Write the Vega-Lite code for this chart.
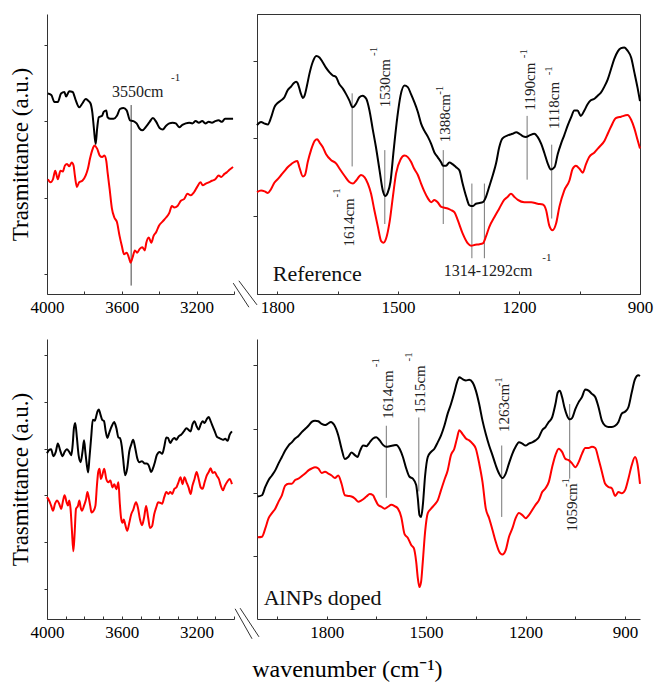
{
"$schema":"https://vega.github.io/schema/vega-lite/v6.json",
"padding":{"left":9,"top":13,"right":0,"bottom":0},
"datasets":{
"tl":[
{"s":"k","x":3995,"y":2.36},{"s":"k","x":3977,"y":2.34},{"s":"k","x":3960,"y":2.25},{"s":"k","x":3942,"y":2.25},{"s":"k","x":3925,"y":2.36},{"s":"k","x":3907,"y":2.38},{"s":"k","x":3898,"y":2.32},{"s":"k","x":3881,"y":2.39},{"s":"k","x":3863,"y":2.38},{"s":"k","x":3846,"y":2.27},{"s":"k","x":3828,"y":2.18},{"s":"k","x":3811,"y":2.23},{"s":"k","x":3793,"y":2.29},{"s":"k","x":3781,"y":2.27},{"s":"k","x":3767,"y":2.23},{"s":"k","x":3758,"y":2.12},{"s":"k","x":3749,"y":1.9},{"s":"k","x":3740,"y":1.7},{"s":"k","x":3732,"y":1.9},{"s":"k","x":3723,"y":2.05},{"s":"k","x":3705,"y":2.07},{"s":"k","x":3697,"y":2.12},{"s":"k","x":3683,"y":2.14},{"s":"k","x":3676,"y":2.05},{"s":"k","x":3661,"y":2.03},{"s":"k","x":3644,"y":2.03},{"s":"k","x":3626,"y":2.07},{"s":"k","x":3609,"y":2.16},{"s":"k","x":3591,"y":2.17},{"s":"k","x":3574,"y":2.14},{"s":"k","x":3556,"y":2.01},{"s":"k","x":3539,"y":2.0},{"s":"k","x":3521,"y":1.97},{"s":"k","x":3504,"y":1.9},{"s":"k","x":3490,"y":1.88},{"s":"k","x":3469,"y":1.93},{"s":"k","x":3451,"y":1.99},{"s":"k","x":3434,"y":2.04},{"s":"k","x":3416,"y":1.99},{"s":"k","x":3398,"y":1.91},{"s":"k","x":3381,"y":1.89},{"s":"k","x":3363,"y":1.94},{"s":"k","x":3346,"y":1.97},{"s":"k","x":3328,"y":1.98},{"s":"k","x":3311,"y":1.97},{"s":"k","x":3293,"y":1.92},{"s":"k","x":3276,"y":1.95},{"s":"k","x":3258,"y":1.97},{"s":"k","x":3240,"y":1.98},{"s":"k","x":3223,"y":1.97},{"s":"k","x":3205,"y":2.0},{"s":"k","x":3188,"y":1.98},{"s":"k","x":3170,"y":2.0},{"s":"k","x":3153,"y":1.97},{"s":"k","x":3135,"y":1.99},{"s":"k","x":3118,"y":1.98},{"s":"k","x":3100,"y":2.0},{"s":"k","x":3082,"y":2.01},{"s":"k","x":3065,"y":1.99},{"s":"k","x":3048,"y":2.03},{"s":"k","x":3030,"y":2.03},{"s":"k","x":3005,"y":2.03},
{"s":"r","x":3995,"y":1.24},{"s":"r","x":3981,"y":1.2},{"s":"r","x":3968,"y":1.24},{"s":"r","x":3956,"y":1.35},{"s":"r","x":3942,"y":1.24},{"s":"r","x":3928,"y":1.35},{"s":"r","x":3916,"y":1.34},{"s":"r","x":3904,"y":1.42},{"s":"r","x":3893,"y":1.44},{"s":"r","x":3881,"y":1.41},{"s":"r","x":3868,"y":1.46},{"s":"r","x":3858,"y":1.42},{"s":"r","x":3851,"y":1.29},{"s":"r","x":3840,"y":1.14},{"s":"r","x":3828,"y":1.2},{"s":"r","x":3811,"y":1.22},{"s":"r","x":3793,"y":1.29},{"s":"r","x":3781,"y":1.38},{"s":"r","x":3770,"y":1.51},{"s":"r","x":3758,"y":1.62},{"s":"r","x":3746,"y":1.68},{"s":"r","x":3732,"y":1.64},{"s":"r","x":3718,"y":1.55},{"s":"r","x":3705,"y":1.53},{"s":"r","x":3693,"y":1.55},{"s":"r","x":3683,"y":1.48},{"s":"r","x":3676,"y":1.33},{"s":"r","x":3665,"y":1.11},{"s":"r","x":3653,"y":0.86},{"s":"r","x":3640,"y":0.74},{"s":"r","x":3626,"y":0.68},{"s":"r","x":3612,"y":0.5},{"s":"r","x":3600,"y":0.37},{"s":"r","x":3588,"y":0.26},{"s":"r","x":3574,"y":0.28},{"s":"r","x":3560,"y":0.2},{"s":"r","x":3553,"y":0.15},{"s":"r","x":3542,"y":0.22},{"s":"r","x":3530,"y":0.31},{"s":"r","x":3518,"y":0.28},{"s":"r","x":3504,"y":0.33},{"s":"r","x":3490,"y":0.35},{"s":"r","x":3477,"y":0.31},{"s":"r","x":3469,"y":0.41},{"s":"r","x":3456,"y":0.48},{"s":"r","x":3442,"y":0.41},{"s":"r","x":3430,"y":0.5},{"s":"r","x":3416,"y":0.55},{"s":"r","x":3402,"y":0.63},{"s":"r","x":3381,"y":0.69},{"s":"r","x":3363,"y":0.74},{"s":"r","x":3346,"y":0.8},{"s":"r","x":3332,"y":0.89},{"s":"r","x":3319,"y":0.87},{"s":"r","x":3302,"y":0.89},{"s":"r","x":3284,"y":0.96},{"s":"r","x":3267,"y":0.98},{"s":"r","x":3249,"y":1.05},{"s":"r","x":3232,"y":1.03},{"s":"r","x":3214,"y":1.07},{"s":"r","x":3197,"y":1.14},{"s":"r","x":3179,"y":1.2},{"s":"r","x":3167,"y":1.16},{"s":"r","x":3153,"y":1.18},{"s":"r","x":3135,"y":1.2},{"s":"r","x":3118,"y":1.22},{"s":"r","x":3100,"y":1.24},{"s":"r","x":3082,"y":1.29},{"s":"r","x":3068,"y":1.27},{"s":"r","x":3051,"y":1.31},{"s":"r","x":3039,"y":1.33},{"s":"r","x":3026,"y":1.36},{"s":"r","x":3005,"y":1.4}
],
"tl_ann":[{"x":3550,"y":2.21,"y2":-0.15}],
"tl_lab":[{"t":"3550cm","x":3653,"y":2.38}],
"tl_sup":[{"t":"-1","x":3312,"y":2.56}],
"tr":[
{"s":"k","x":1850,"y":1.17},{"s":"k","x":1840,"y":1.21},{"s":"k","x":1831,"y":1.19},{"s":"k","x":1823,"y":1.18},{"s":"k","x":1815,"y":1.27},{"s":"k","x":1807,"y":1.4},{"s":"k","x":1798,"y":1.46},{"s":"k","x":1790,"y":1.49},{"s":"k","x":1782,"y":1.53},{"s":"k","x":1774,"y":1.62},{"s":"k","x":1765,"y":1.67},{"s":"k","x":1759,"y":1.71},{"s":"k","x":1753,"y":1.73},{"s":"k","x":1749,"y":1.71},{"s":"k","x":1742,"y":1.59},{"s":"k","x":1736,"y":1.52},{"s":"k","x":1732,"y":1.55},{"s":"k","x":1726,"y":1.68},{"s":"k","x":1720,"y":1.83},{"s":"k","x":1712,"y":1.98},{"s":"k","x":1703,"y":2.06},{"s":"k","x":1695,"y":2.04},{"s":"k","x":1687,"y":1.98},{"s":"k","x":1679,"y":1.91},{"s":"k","x":1670,"y":1.85},{"s":"k","x":1662,"y":1.81},{"s":"k","x":1654,"y":1.79},{"s":"k","x":1646,"y":1.7},{"s":"k","x":1637,"y":1.64},{"s":"k","x":1629,"y":1.57},{"s":"k","x":1621,"y":1.49},{"s":"k","x":1613,"y":1.4},{"s":"k","x":1604,"y":1.45},{"s":"k","x":1596,"y":1.53},{"s":"k","x":1588,"y":1.55},{"s":"k","x":1579,"y":1.51},{"s":"k","x":1571,"y":1.36},{"s":"k","x":1563,"y":1.12},{"s":"k","x":1555,"y":0.89},{"s":"k","x":1546,"y":0.59},{"s":"k","x":1538,"y":0.33},{"s":"k","x":1532,"y":0.26},{"s":"k","x":1526,"y":0.3},{"s":"k","x":1519,"y":0.44},{"s":"k","x":1511,"y":0.85},{"s":"k","x":1502,"y":1.27},{"s":"k","x":1494,"y":1.55},{"s":"k","x":1484,"y":1.68},{"s":"k","x":1476,"y":1.66},{"s":"k","x":1468,"y":1.57},{"s":"k","x":1460,"y":1.47},{"s":"k","x":1451,"y":1.34},{"s":"k","x":1443,"y":1.19},{"s":"k","x":1435,"y":1.1},{"s":"k","x":1426,"y":1.02},{"s":"k","x":1418,"y":0.93},{"s":"k","x":1410,"y":0.82},{"s":"k","x":1402,"y":0.76},{"s":"k","x":1393,"y":0.69},{"s":"k","x":1389,"y":0.65},{"s":"k","x":1381,"y":0.65},{"s":"k","x":1373,"y":0.69},{"s":"k","x":1365,"y":0.67},{"s":"k","x":1356,"y":0.63},{"s":"k","x":1348,"y":0.59},{"s":"k","x":1340,"y":0.42},{"s":"k","x":1331,"y":0.25},{"s":"k","x":1323,"y":0.14},{"s":"k","x":1315,"y":0.13},{"s":"k","x":1307,"y":0.16},{"s":"k","x":1298,"y":0.17},{"s":"k","x":1290,"y":0.18},{"s":"k","x":1282,"y":0.25},{"s":"k","x":1274,"y":0.38},{"s":"k","x":1265,"y":0.53},{"s":"k","x":1257,"y":0.68},{"s":"k","x":1249,"y":0.89},{"s":"k","x":1241,"y":1.0},{"s":"k","x":1228,"y":1.04},{"s":"k","x":1216,"y":1.06},{"s":"k","x":1207,"y":1.08},{"s":"k","x":1199,"y":1.06},{"s":"k","x":1191,"y":1.03},{"s":"k","x":1183,"y":1.02},{"s":"k","x":1174,"y":1.04},{"s":"k","x":1162,"y":1.06},{"s":"k","x":1154,"y":1.02},{"s":"k","x":1145,"y":0.93},{"s":"k","x":1137,"y":0.81},{"s":"k","x":1129,"y":0.68},{"s":"k","x":1121,"y":0.6},{"s":"k","x":1112,"y":0.63},{"s":"k","x":1104,"y":0.8},{"s":"k","x":1096,"y":0.93},{"s":"k","x":1088,"y":1.04},{"s":"k","x":1079,"y":1.17},{"s":"k","x":1071,"y":1.27},{"s":"k","x":1063,"y":1.36},{"s":"k","x":1055,"y":1.36},{"s":"k","x":1047,"y":1.29},{"s":"k","x":1038,"y":1.36},{"s":"k","x":1030,"y":1.44},{"s":"k","x":1022,"y":1.49},{"s":"k","x":1013,"y":1.51},{"s":"k","x":1005,"y":1.55},{"s":"k","x":997,"y":1.59},{"s":"k","x":988,"y":1.67},{"s":"k","x":980,"y":1.76},{"s":"k","x":972,"y":1.89},{"s":"k","x":964,"y":2.02},{"s":"k","x":955,"y":2.12},{"s":"k","x":947,"y":2.16},{"s":"k","x":939,"y":2.17},{"s":"k","x":931,"y":2.13},{"s":"k","x":922,"y":2.04},{"s":"k","x":914,"y":1.85},{"s":"k","x":906,"y":1.65},{"s":"k","x":900,"y":1.48},
{"s":"r","x":1850,"y":0.31},{"s":"r","x":1840,"y":0.33},{"s":"r","x":1831,"y":0.32},{"s":"r","x":1823,"y":0.3},{"s":"r","x":1815,"y":0.35},{"s":"r","x":1807,"y":0.43},{"s":"r","x":1798,"y":0.48},{"s":"r","x":1790,"y":0.53},{"s":"r","x":1782,"y":0.58},{"s":"r","x":1774,"y":0.63},{"s":"r","x":1765,"y":0.67},{"s":"r","x":1757,"y":0.7},{"s":"r","x":1750,"y":0.71},{"s":"r","x":1745,"y":0.63},{"s":"r","x":1736,"y":0.51},{"s":"r","x":1731,"y":0.53},{"s":"r","x":1724,"y":0.7},{"s":"r","x":1716,"y":0.85},{"s":"r","x":1707,"y":0.97},{"s":"r","x":1701,"y":0.99},{"s":"r","x":1695,"y":0.95},{"s":"r","x":1687,"y":0.89},{"s":"r","x":1679,"y":0.8},{"s":"r","x":1666,"y":0.72},{"s":"r","x":1654,"y":0.68},{"s":"r","x":1645,"y":0.61},{"s":"r","x":1633,"y":0.52},{"s":"r","x":1621,"y":0.44},{"s":"r","x":1612,"y":0.42},{"s":"r","x":1604,"y":0.46},{"s":"r","x":1592,"y":0.53},{"s":"r","x":1583,"y":0.5},{"s":"r","x":1575,"y":0.42},{"s":"r","x":1567,"y":0.29},{"s":"r","x":1559,"y":0.08},{"s":"r","x":1550,"y":-0.14},{"s":"r","x":1542,"y":-0.32},{"s":"r","x":1536,"y":-0.34},{"s":"r","x":1530,"y":-0.29},{"s":"r","x":1521,"y":-0.07},{"s":"r","x":1513,"y":0.25},{"s":"r","x":1505,"y":0.55},{"s":"r","x":1494,"y":0.73},{"s":"r","x":1484,"y":0.78},{"s":"r","x":1476,"y":0.76},{"s":"r","x":1468,"y":0.7},{"s":"r","x":1460,"y":0.61},{"s":"r","x":1451,"y":0.53},{"s":"r","x":1443,"y":0.42},{"s":"r","x":1435,"y":0.32},{"s":"r","x":1426,"y":0.23},{"s":"r","x":1418,"y":0.18},{"s":"r","x":1410,"y":0.21},{"s":"r","x":1402,"y":0.18},{"s":"r","x":1393,"y":0.12},{"s":"r","x":1385,"y":0.11},{"s":"r","x":1377,"y":0.1},{"s":"r","x":1369,"y":0.08},{"s":"r","x":1360,"y":0.05},{"s":"r","x":1352,"y":-0.05},{"s":"r","x":1340,"y":-0.22},{"s":"r","x":1327,"y":-0.35},{"s":"r","x":1319,"y":-0.38},{"s":"r","x":1311,"y":-0.37},{"s":"r","x":1298,"y":-0.36},{"s":"r","x":1290,"y":-0.35},{"s":"r","x":1282,"y":-0.26},{"s":"r","x":1274,"y":-0.14},{"s":"r","x":1261,"y":-0.01},{"s":"r","x":1249,"y":0.1},{"s":"r","x":1237,"y":0.21},{"s":"r","x":1228,"y":0.25},{"s":"r","x":1220,"y":0.29},{"s":"r","x":1212,"y":0.25},{"s":"r","x":1203,"y":0.21},{"s":"r","x":1187,"y":0.18},{"s":"r","x":1170,"y":0.18},{"s":"r","x":1154,"y":0.16},{"s":"r","x":1141,"y":0.15},{"s":"r","x":1133,"y":0.08},{"s":"r","x":1125,"y":-0.12},{"s":"r","x":1117,"y":-0.18},{"s":"r","x":1108,"y":-0.09},{"s":"r","x":1100,"y":0.12},{"s":"r","x":1088,"y":0.33},{"s":"r","x":1075,"y":0.46},{"s":"r","x":1067,"y":0.61},{"s":"r","x":1059,"y":0.65},{"s":"r","x":1050,"y":0.61},{"s":"r","x":1042,"y":0.56},{"s":"r","x":1034,"y":0.67},{"s":"r","x":1026,"y":0.76},{"s":"r","x":1013,"y":0.82},{"s":"r","x":1001,"y":0.89},{"s":"r","x":988,"y":0.97},{"s":"r","x":980,"y":1.06},{"s":"r","x":972,"y":1.15},{"s":"r","x":960,"y":1.26},{"s":"r","x":947,"y":1.28},{"s":"r","x":931,"y":1.3},{"s":"r","x":922,"y":1.24},{"s":"r","x":914,"y":1.13},{"s":"r","x":906,"y":0.98},{"s":"r","x":900,"y":0.87}
],
"tr_ann":[{"x":1614,"y":1.58,"y2":0.64},{"x":1533,"y":0.85,"y2":-0.1},{"x":1388,"y":0.85,"y2":-0.1},{"x":1317,"y":0.42,"y2":-0.54},{"x":1286,"y":0.42,"y2":-0.54},{"x":1180,"y":1.29,"y2":0.47},{"x":1119,"y":0.92,"y2":-0.03}],
"tr_rot":[{"t":"1614cm","x":1621,"y":-0.39},{"t":"1530cm","x":1532,"y":1.4},{"t":"1388cm","x":1383,"y":0.95},{"t":"1190cm","x":1174,"y":1.36},{"t":"1118cm","x":1114,"y":1.12}],
"tr_rsup":[{"t":"-1","x":1651,"y":0.3},{"t":"-1","x":1561,"y":2.12},{"t":"-1","x":1396,"y":1.62},{"t":"-1","x":1187,"y":2.09},{"t":"-1","x":1125,"y":1.87}],
"tr_hor":[{"t":"1314-1292cm","x":1387,"y":-0.71}],
"tr_hsup":[{"t":"-1","x":1131,"y":-0.54}],
"tr_big":[{"t":"Reference","x":1811,"y":-0.74}],
"tr_brk":[{"x":1909,"x2":1870,"y":-0.86,"y2":-1.17},{"x":1895,"x2":1850,"y":-0.83,"y2":-1.14}],
"bl":[
{"s":"k","x":4000,"y":2.9},{"s":"k","x":3989,"y":2.97},{"s":"k","x":3978,"y":2.99},{"s":"k","x":3966,"y":2.84},{"s":"k","x":3953,"y":2.93},{"s":"k","x":3942,"y":3.11},{"s":"k","x":3930,"y":2.97},{"s":"k","x":3917,"y":2.84},{"s":"k","x":3906,"y":2.93},{"s":"k","x":3894,"y":2.99},{"s":"k","x":3881,"y":2.93},{"s":"k","x":3870,"y":2.86},{"s":"k","x":3863,"y":3.07},{"s":"k","x":3856,"y":3.44},{"s":"k","x":3849,"y":3.55},{"s":"k","x":3840,"y":3.23},{"s":"k","x":3831,"y":2.86},{"s":"k","x":3820,"y":2.71},{"s":"k","x":3809,"y":2.97},{"s":"k","x":3802,"y":3.18},{"s":"k","x":3795,"y":2.93},{"s":"k","x":3787,"y":2.65},{"s":"k","x":3780,"y":2.49},{"s":"k","x":3773,"y":2.8},{"s":"k","x":3764,"y":3.23},{"s":"k","x":3755,"y":3.62},{"s":"k","x":3744,"y":3.6},{"s":"k","x":3737,"y":3.69},{"s":"k","x":3730,"y":3.8},{"s":"k","x":3723,"y":3.84},{"s":"k","x":3714,"y":3.73},{"s":"k","x":3705,"y":3.62},{"s":"k","x":3695,"y":3.59},{"s":"k","x":3686,"y":3.37},{"s":"k","x":3677,"y":3.23},{"s":"k","x":3668,"y":3.33},{"s":"k","x":3654,"y":3.48},{"s":"k","x":3641,"y":3.57},{"s":"k","x":3629,"y":3.44},{"s":"k","x":3618,"y":3.24},{"s":"k","x":3611,"y":3.23},{"s":"k","x":3600,"y":3.05},{"s":"k","x":3593,"y":2.79},{"s":"k","x":3582,"y":2.43},{"s":"k","x":3571,"y":2.58},{"s":"k","x":3560,"y":2.94},{"s":"k","x":3550,"y":3.08},{"s":"k","x":3539,"y":3.19},{"s":"k","x":3528,"y":3.01},{"s":"k","x":3517,"y":2.79},{"s":"k","x":3506,"y":2.71},{"s":"k","x":3492,"y":2.73},{"s":"k","x":3477,"y":2.68},{"s":"k","x":3467,"y":2.68},{"s":"k","x":3456,"y":2.64},{"s":"k","x":3443,"y":2.5},{"s":"k","x":3434,"y":2.57},{"s":"k","x":3423,"y":2.71},{"s":"k","x":3413,"y":2.86},{"s":"k","x":3398,"y":2.93},{"s":"k","x":3384,"y":2.89},{"s":"k","x":3373,"y":3.04},{"s":"k","x":3362,"y":3.24},{"s":"k","x":3353,"y":3.23},{"s":"k","x":3341,"y":3.12},{"s":"k","x":3330,"y":3.19},{"s":"k","x":3319,"y":3.23},{"s":"k","x":3308,"y":3.19},{"s":"k","x":3297,"y":3.26},{"s":"k","x":3283,"y":3.3},{"s":"k","x":3268,"y":3.37},{"s":"k","x":3254,"y":3.44},{"s":"k","x":3245,"y":3.41},{"s":"k","x":3232,"y":3.37},{"s":"k","x":3222,"y":3.52},{"s":"k","x":3211,"y":3.59},{"s":"k","x":3200,"y":3.48},{"s":"k","x":3189,"y":3.41},{"s":"k","x":3178,"y":3.52},{"s":"k","x":3168,"y":3.59},{"s":"k","x":3157,"y":3.55},{"s":"k","x":3146,"y":3.63},{"s":"k","x":3135,"y":3.68},{"s":"k","x":3125,"y":3.59},{"s":"k","x":3114,"y":3.48},{"s":"k","x":3103,"y":3.37},{"s":"k","x":3092,"y":3.26},{"s":"k","x":3081,"y":3.23},{"s":"k","x":3070,"y":3.21},{"s":"k","x":3059,"y":3.19},{"s":"k","x":3047,"y":3.21},{"s":"k","x":3034,"y":3.17},{"s":"k","x":3023,"y":3.3},{"s":"k","x":3011,"y":3.37},
{"s":"r","x":4000,"y":1.96},{"s":"r","x":3989,"y":1.89},{"s":"r","x":3978,"y":1.78},{"s":"r","x":3968,"y":1.67},{"s":"r","x":3957,"y":1.82},{"s":"r","x":3946,"y":1.89},{"s":"r","x":3935,"y":1.82},{"s":"r","x":3924,"y":1.71},{"s":"r","x":3914,"y":1.89},{"s":"r","x":3906,"y":2.0},{"s":"r","x":3895,"y":1.85},{"s":"r","x":3888,"y":1.78},{"s":"r","x":3881,"y":1.89},{"s":"r","x":3874,"y":1.71},{"s":"r","x":3867,"y":1.27},{"s":"r","x":3859,"y":0.8},{"s":"r","x":3852,"y":1.2},{"s":"r","x":3845,"y":1.71},{"s":"r","x":3834,"y":1.78},{"s":"r","x":3827,"y":1.89},{"s":"r","x":3820,"y":1.74},{"s":"r","x":3813,"y":1.67},{"s":"r","x":3802,"y":1.78},{"s":"r","x":3791,"y":1.92},{"s":"r","x":3784,"y":2.07},{"s":"r","x":3777,"y":1.96},{"s":"r","x":3769,"y":1.78},{"s":"r","x":3762,"y":1.63},{"s":"r","x":3751,"y":1.67},{"s":"r","x":3741,"y":1.78},{"s":"r","x":3733,"y":2.21},{"s":"r","x":3726,"y":2.5},{"s":"r","x":3719,"y":2.57},{"s":"r","x":3712,"y":2.35},{"s":"r","x":3705,"y":2.42},{"s":"r","x":3694,"y":2.57},{"s":"r","x":3683,"y":2.35},{"s":"r","x":3672,"y":2.28},{"s":"r","x":3661,"y":2.32},{"s":"r","x":3650,"y":2.17},{"s":"r","x":3640,"y":2.24},{"s":"r","x":3629,"y":2.13},{"s":"r","x":3618,"y":2.28},{"s":"r","x":3611,"y":1.85},{"s":"r","x":3604,"y":1.52},{"s":"r","x":3596,"y":1.41},{"s":"r","x":3589,"y":1.48},{"s":"r","x":3582,"y":1.38},{"s":"r","x":3571,"y":1.24},{"s":"r","x":3560,"y":1.41},{"s":"r","x":3550,"y":1.59},{"s":"r","x":3539,"y":1.69},{"s":"r","x":3524,"y":1.85},{"s":"r","x":3514,"y":1.74},{"s":"r","x":3503,"y":1.49},{"s":"r","x":3492,"y":1.36},{"s":"r","x":3481,"y":1.52},{"s":"r","x":3470,"y":1.77},{"s":"r","x":3459,"y":1.52},{"s":"r","x":3449,"y":1.3},{"s":"r","x":3438,"y":1.34},{"s":"r","x":3427,"y":1.59},{"s":"r","x":3416,"y":1.74},{"s":"r","x":3405,"y":1.85},{"s":"r","x":3395,"y":1.84},{"s":"r","x":3384,"y":1.82},{"s":"r","x":3373,"y":1.96},{"s":"r","x":3362,"y":2.07},{"s":"r","x":3351,"y":2.03},{"s":"r","x":3341,"y":2.07},{"s":"r","x":3330,"y":2.03},{"s":"r","x":3319,"y":2.14},{"s":"r","x":3308,"y":2.17},{"s":"r","x":3297,"y":2.28},{"s":"r","x":3286,"y":2.39},{"s":"r","x":3275,"y":2.24},{"s":"r","x":3265,"y":2.39},{"s":"r","x":3254,"y":2.28},{"s":"r","x":3243,"y":2.17},{"s":"r","x":3232,"y":2.03},{"s":"r","x":3222,"y":2.21},{"s":"r","x":3211,"y":2.35},{"s":"r","x":3200,"y":2.5},{"s":"r","x":3189,"y":2.35},{"s":"r","x":3178,"y":2.17},{"s":"r","x":3168,"y":2.14},{"s":"r","x":3157,"y":2.28},{"s":"r","x":3146,"y":2.42},{"s":"r","x":3135,"y":2.5},{"s":"r","x":3125,"y":2.58},{"s":"r","x":3114,"y":2.48},{"s":"r","x":3103,"y":2.5},{"s":"r","x":3092,"y":2.42},{"s":"r","x":3081,"y":2.35},{"s":"r","x":3070,"y":2.2},{"s":"r","x":3059,"y":2.11},{"s":"r","x":3049,"y":2.2},{"s":"r","x":3038,"y":2.28},{"s":"r","x":3023,"y":2.35},{"s":"r","x":3011,"y":2.24}
],
"br":[
{"s":"k","x":2008,"y":0.94},{"s":"k","x":1995,"y":0.96},{"s":"k","x":1985,"y":1.09},{"s":"k","x":1975,"y":1.2},{"s":"k","x":1965,"y":1.27},{"s":"k","x":1955,"y":1.35},{"s":"k","x":1945,"y":1.46},{"s":"k","x":1935,"y":1.56},{"s":"k","x":1925,"y":1.66},{"s":"k","x":1915,"y":1.74},{"s":"k","x":1905,"y":1.79},{"s":"k","x":1895,"y":1.85},{"s":"k","x":1885,"y":1.89},{"s":"k","x":1875,"y":1.95},{"s":"k","x":1865,"y":2.0},{"s":"k","x":1855,"y":2.05},{"s":"k","x":1845,"y":2.11},{"s":"k","x":1835,"y":2.13},{"s":"k","x":1825,"y":2.12},{"s":"k","x":1815,"y":2.08},{"s":"k","x":1805,"y":2.06},{"s":"k","x":1797,"y":2.08},{"s":"k","x":1787,"y":2.11},{"s":"k","x":1777,"y":2.06},{"s":"k","x":1765,"y":1.9},{"s":"k","x":1755,"y":1.69},{"s":"k","x":1745,"y":1.53},{"s":"k","x":1735,"y":1.56},{"s":"k","x":1725,"y":1.63},{"s":"k","x":1715,"y":1.59},{"s":"k","x":1707,"y":1.56},{"s":"k","x":1699,"y":1.66},{"s":"k","x":1690,"y":1.74},{"s":"k","x":1680,"y":1.73},{"s":"k","x":1670,"y":1.79},{"s":"k","x":1660,"y":1.85},{"s":"k","x":1650,"y":1.87},{"s":"k","x":1640,"y":1.82},{"s":"k","x":1630,"y":1.75},{"s":"k","x":1620,"y":1.72},{"s":"k","x":1610,"y":1.73},{"s":"k","x":1600,"y":1.74},{"s":"k","x":1590,"y":1.75},{"s":"k","x":1580,"y":1.69},{"s":"k","x":1570,"y":1.56},{"s":"k","x":1560,"y":1.38},{"s":"k","x":1550,"y":1.25},{"s":"k","x":1540,"y":1.22},{"s":"k","x":1530,"y":1.12},{"s":"k","x":1525,"y":0.91},{"s":"k","x":1520,"y":0.65},{"s":"k","x":1515,"y":0.62},{"s":"k","x":1510,"y":0.8},{"s":"k","x":1503,"y":1.27},{"s":"k","x":1495,"y":1.56},{"s":"k","x":1485,"y":1.64},{"s":"k","x":1475,"y":1.69},{"s":"k","x":1465,"y":1.79},{"s":"k","x":1455,"y":1.9},{"s":"k","x":1445,"y":2.05},{"s":"k","x":1435,"y":2.24},{"s":"k","x":1425,"y":2.39},{"s":"k","x":1415,"y":2.57},{"s":"k","x":1407,"y":2.73},{"s":"k","x":1400,"y":2.81},{"s":"k","x":1390,"y":2.78},{"s":"k","x":1380,"y":2.76},{"s":"k","x":1370,"y":2.77},{"s":"k","x":1360,"y":2.73},{"s":"k","x":1350,"y":2.6},{"s":"k","x":1340,"y":2.39},{"s":"k","x":1330,"y":2.13},{"s":"k","x":1320,"y":1.92},{"s":"k","x":1310,"y":1.74},{"s":"k","x":1300,"y":1.59},{"s":"k","x":1290,"y":1.43},{"s":"k","x":1280,"y":1.3},{"s":"k","x":1270,"y":1.23},{"s":"k","x":1260,"y":1.3},{"s":"k","x":1250,"y":1.46},{"s":"k","x":1240,"y":1.61},{"s":"k","x":1230,"y":1.72},{"s":"k","x":1220,"y":1.79},{"s":"k","x":1210,"y":1.77},{"s":"k","x":1200,"y":1.74},{"s":"k","x":1190,"y":1.77},{"s":"k","x":1180,"y":1.79},{"s":"k","x":1170,"y":1.82},{"s":"k","x":1160,"y":1.87},{"s":"k","x":1150,"y":1.98},{"s":"k","x":1140,"y":2.03},{"s":"k","x":1130,"y":2.11},{"s":"k","x":1120,"y":2.18},{"s":"k","x":1110,"y":2.39},{"s":"k","x":1103,"y":2.57},{"s":"k","x":1097,"y":2.6},{"s":"k","x":1090,"y":2.5},{"s":"k","x":1083,"y":2.34},{"s":"k","x":1075,"y":2.21},{"s":"k","x":1067,"y":2.15},{"s":"k","x":1060,"y":2.17},{"s":"k","x":1050,"y":2.31},{"s":"k","x":1040,"y":2.42},{"s":"k","x":1030,"y":2.5},{"s":"k","x":1020,"y":2.62},{"s":"k","x":1010,"y":2.6},{"s":"k","x":1000,"y":2.55},{"s":"k","x":990,"y":2.5},{"s":"k","x":980,"y":2.34},{"s":"k","x":970,"y":2.13},{"s":"k","x":960,"y":2.05},{"s":"k","x":950,"y":2.03},{"s":"k","x":940,"y":2.03},{"s":"k","x":930,"y":2.05},{"s":"k","x":920,"y":2.11},{"s":"k","x":910,"y":2.24},{"s":"k","x":900,"y":2.27},{"s":"k","x":890,"y":2.34},{"s":"k","x":880,"y":2.57},{"s":"k","x":870,"y":2.78},{"s":"k","x":860,"y":2.84},{"s":"k","x":855,"y":2.83},
{"s":"r","x":2008,"y":0.3},{"s":"r","x":1995,"y":0.31},{"s":"r","x":1985,"y":0.44},{"s":"r","x":1975,"y":0.6},{"s":"r","x":1965,"y":0.68},{"s":"r","x":1955,"y":0.75},{"s":"r","x":1945,"y":0.86},{"s":"r","x":1935,"y":0.96},{"s":"r","x":1925,"y":1.11},{"s":"r","x":1915,"y":1.14},{"s":"r","x":1905,"y":1.14},{"s":"r","x":1895,"y":1.2},{"s":"r","x":1885,"y":1.22},{"s":"r","x":1875,"y":1.26},{"s":"r","x":1865,"y":1.3},{"s":"r","x":1855,"y":1.35},{"s":"r","x":1845,"y":1.38},{"s":"r","x":1835,"y":1.4},{"s":"r","x":1825,"y":1.38},{"s":"r","x":1815,"y":1.31},{"s":"r","x":1805,"y":1.33},{"s":"r","x":1795,"y":1.3},{"s":"r","x":1785,"y":1.27},{"s":"r","x":1775,"y":1.23},{"s":"r","x":1765,"y":1.27},{"s":"r","x":1755,"y":1.14},{"s":"r","x":1745,"y":0.96},{"s":"r","x":1735,"y":0.95},{"s":"r","x":1725,"y":0.94},{"s":"r","x":1715,"y":0.91},{"s":"r","x":1705,"y":0.86},{"s":"r","x":1695,"y":0.88},{"s":"r","x":1680,"y":0.94},{"s":"r","x":1670,"y":0.98},{"s":"r","x":1660,"y":0.96},{"s":"r","x":1655,"y":0.91},{"s":"r","x":1645,"y":0.81},{"s":"r","x":1635,"y":0.78},{"s":"r","x":1625,"y":0.75},{"s":"r","x":1615,"y":0.78},{"s":"r","x":1605,"y":0.81},{"s":"r","x":1595,"y":0.79},{"s":"r","x":1585,"y":0.75},{"s":"r","x":1575,"y":0.62},{"s":"r","x":1565,"y":0.35},{"s":"r","x":1555,"y":0.29},{"s":"r","x":1545,"y":0.18},{"s":"r","x":1537,"y":0.13},{"s":"r","x":1530,"y":-0.08},{"s":"r","x":1525,"y":-0.34},{"s":"r","x":1520,"y":-0.48},{"s":"r","x":1515,"y":-0.39},{"s":"r","x":1510,"y":-0.08},{"s":"r","x":1503,"y":0.39},{"s":"r","x":1495,"y":0.68},{"s":"r","x":1485,"y":0.75},{"s":"r","x":1475,"y":0.81},{"s":"r","x":1465,"y":0.88},{"s":"r","x":1455,"y":1.04},{"s":"r","x":1445,"y":1.2},{"s":"r","x":1435,"y":1.35},{"s":"r","x":1425,"y":1.59},{"s":"r","x":1415,"y":1.69},{"s":"r","x":1407,"y":1.85},{"s":"r","x":1400,"y":1.98},{"s":"r","x":1390,"y":1.92},{"s":"r","x":1380,"y":1.85},{"s":"r","x":1370,"y":1.82},{"s":"r","x":1360,"y":1.77},{"s":"r","x":1350,"y":1.69},{"s":"r","x":1340,"y":1.46},{"s":"r","x":1330,"y":1.17},{"s":"r","x":1320,"y":0.75},{"s":"r","x":1310,"y":0.6},{"s":"r","x":1300,"y":0.42},{"s":"r","x":1290,"y":0.23},{"s":"r","x":1280,"y":0.08},{"s":"r","x":1270,"y":0.03},{"s":"r","x":1260,"y":0.1},{"s":"r","x":1250,"y":0.31},{"s":"r","x":1240,"y":0.44},{"s":"r","x":1230,"y":0.6},{"s":"r","x":1220,"y":0.68},{"s":"r","x":1210,"y":0.65},{"s":"r","x":1200,"y":0.6},{"s":"r","x":1190,"y":0.65},{"s":"r","x":1180,"y":0.73},{"s":"r","x":1170,"y":0.81},{"s":"r","x":1160,"y":0.88},{"s":"r","x":1150,"y":1.01},{"s":"r","x":1140,"y":1.07},{"s":"r","x":1130,"y":1.17},{"s":"r","x":1120,"y":1.4},{"s":"r","x":1110,"y":1.59},{"s":"r","x":1100,"y":1.69},{"s":"r","x":1090,"y":1.64},{"s":"r","x":1080,"y":1.53},{"s":"r","x":1070,"y":1.51},{"s":"r","x":1060,"y":1.46},{"s":"r","x":1050,"y":1.4},{"s":"r","x":1040,"y":1.48},{"s":"r","x":1030,"y":1.61},{"s":"r","x":1020,"y":1.7},{"s":"r","x":1010,"y":1.7},{"s":"r","x":1000,"y":1.72},{"s":"r","x":990,"y":1.7},{"s":"r","x":980,"y":1.53},{"s":"r","x":970,"y":1.33},{"s":"r","x":960,"y":1.14},{"s":"r","x":950,"y":1.09},{"s":"r","x":940,"y":1.07},{"s":"r","x":930,"y":0.95},{"s":"r","x":920,"y":1.01},{"s":"r","x":910,"y":0.99},{"s":"r","x":900,"y":1.04},{"s":"r","x":890,"y":1.22},{"s":"r","x":880,"y":1.43},{"s":"r","x":870,"y":1.56},{"s":"r","x":863,"y":1.46},{"s":"r","x":855,"y":1.14}
],
"br_ann":[{"x":1620,"y":2.05,"y2":0.92},{"x":1522,"y":2.18,"y2":1.02},{"x":1272,"y":1.74,"y2":0.62},{"x":1067,"y":2.39,"y2":1.22}],
"br_rot":[{"t":"1614cm","x":1615,"y":2.16},{"t":"1515cm","x":1517,"y":2.24},{"t":"1263cm","x":1265,"y":1.95},{"t":"1059cm","x":1060,"y":0.39}],
"br_rsup":[{"t":"-1","x":1652,"y":3.04},{"t":"-1","x":1553,"y":3.13},{"t":"-1","x":1279,"y":2.74},{"t":"-1","x":1079,"y":1.16}],
"br_big":[{"t":"AlNPs doped","x":1990,"y":-0.65}],
"br_brk":[{"x":2076,"x2":2025,"y":-0.82,"y2":-1.29},{"x":2061,"x2":2004,"y":-0.81,"y2":-1.26}]
},
"columns":2,
"spacing":{"row":45,"column":23},
"bounds":"flush",
"concat":[
 {"width":187,"height":280,
  "encoding":{
    "x":{"field":"x","type":"quantitative","scale":{"domain":[3000,4000],"reverse":true,"nice":false,"zero":false},"axis":{"values":[3000,3200,3400,3600,3800,4000],"format":"d","labelExpr":"datum.value % 400 == 0 ? datum.label : ''","tickSize":-3,"labelPadding":8,"labelOverlap":false,"labelFlush":false,"labelFont":"Liberation Serif","labelFontSize":17,"title":null}},
    "y":{"field":"y","type":"quantitative","scale":{"domain":[-0.26,3.4],"nice":false,"zero":false},"axis":{"values":[0,1,2,3],"labels":false,"tickSize":3,"title":"Trasmittance (a.u.)","titlePadding":11,"titleFont":"Liberation Serif","titleFontSize":23}}},
  "layer":[
  {"data":{"name":"tl_ann"},"mark":{"type":"rule","color":"#444","strokeWidth":1},"encoding":{"y2":{"field":"y2"}}},
  {"data":{"name":"tl_lab"},"mark":{"type":"text","align":"left","baseline":"middle","fontSize":16,"font":"Liberation Serif","color":"#222"},"encoding":{"text":{"field":"t"}}},
  {"data":{"name":"tl_sup"},"mark":{"type":"text","align":"center","baseline":"middle","fontSize":11,"font":"Liberation Serif","color":"#222"},"encoding":{"text":{"field":"t"}}},
  {"data":{"name":"tl"},"mark":{"type":"line","strokeWidth":2,"interpolate":"monotone"},
   "encoding":{"color":{"field":"s","type":"nominal","scale":{"domain":["k","r"],"range":["#000000","#ff0000"]},"legend":null}}}
 ]},
 {"width":383,"height":280,"view":{"stroke":"#333"},
  "encoding":{
    "x":{"field":"x","type":"quantitative","scale":{"domain":[900,1850],"reverse":true,"nice":false,"zero":false},"axis":{"values":[900,1050,1200,1350,1500,1650,1800],"format":"d","labelExpr":"datum.value % 300 == 0 ? datum.label : ''","tickSize":-3,"labelPadding":8,"labelOverlap":false,"labelFlush":false,"labelFont":"Liberation Serif","labelFontSize":17,"title":null}},
    "y":{"field":"y","type":"quantitative","scale":{"domain":[-1,2.6],"nice":false,"zero":false},"axis":{"values":[0,1,2],"labels":false,"tickSize":4,"title":null}}},
  "layer":[
  {"data":{"name":"tr_ann"},"mark":{"type":"rule","color":"#777","strokeWidth":1},"encoding":{"y2":{"field":"y2"}}},
  {"data":{"name":"tr_rot"},"mark":{"type":"text","align":"left","baseline":"middle","angle":270,"fontSize":15,"font":"Liberation Serif","color":"#222"},"encoding":{"text":{"field":"t"}}},
  {"data":{"name":"tr_rsup"},"mark":{"type":"text","align":"center","baseline":"middle","angle":270,"fontSize":11,"font":"Liberation Serif","color":"#222"},"encoding":{"text":{"field":"t"}}},
  {"data":{"name":"tr_hor"},"mark":{"type":"text","align":"left","baseline":"middle","fontSize":16,"font":"Liberation Serif","color":"#222"},"encoding":{"text":{"field":"t"}}},
  {"data":{"name":"tr_hsup"},"mark":{"type":"text","align":"center","baseline":"middle","fontSize":11,"font":"Liberation Serif","color":"#222"},"encoding":{"text":{"field":"t"}}},
  {"data":{"name":"tr_big"},"mark":{"type":"text","align":"left","baseline":"middle","fontSize":22,"font":"Liberation Serif","color":"#111"},"encoding":{"text":{"field":"t"}}},
  {"data":{"name":"tr_brk"},"mark":{"type":"rule","color":"#333","strokeWidth":1},"encoding":{"x2":{"field":"x2"},"y2":{"field":"y2"}}},
  {"data":{"name":"tr"},"mark":{"type":"line","strokeWidth":2,"interpolate":"monotone"},
   "encoding":{"color":{"field":"s","type":"nominal","scale":{"domain":["k","r"],"range":["#000000","#ff0000"]},"legend":null}}}
 ]},
 {"width":187,"height":280,"layer":[
  {"mark":{"type":"rule","color":"#333","strokeWidth":1},
   "encoding":{"y":{"datum":5.35,"type":"quantitative","scale":{"domain":[-0.65,5.35],"nice":false,"zero":false}}}},
  {"data":{"name":"bl"},"mark":{"type":"line","strokeWidth":2,"interpolate":"monotone"},
   "encoding":{
    "x":{"field":"x","type":"quantitative","scale":{"domain":[3000,4000],"reverse":true,"nice":false,"zero":false},"axis":{"values":[3000,3100,3200,3300,3400,3500,3600,3700,3800,3900,4000],"format":"d","labelExpr":"datum.value % 400 == 0 ? datum.label : ''","tickSize":-3,"labelPadding":8,"labelOverlap":false,"labelFlush":false,"labelFont":"Liberation Serif","labelFontSize":17,"title":null}},
    "y":{"field":"y","type":"quantitative","scale":{"domain":[-0.65,5.35],"nice":false,"zero":false},"axis":{"values":[0,1,2,3,4,5],"labels":false,"tickSize":3,"title":"Trasmittance (a.u.)","titlePadding":11,"titleFont":"Liberation Serif","titleFontSize":23}},
    "color":{"field":"s","type":"nominal","scale":{"domain":["k","r"],"range":["#000000","#ff0000"]},"legend":null}}}
 ]},
 {"width":383,"height":280,"layer":[
  {"mark":{"type":"rule","color":"#333","strokeWidth":1},
   "encoding":{"x":{"datum":855,"type":"quantitative","scale":{"domain":[855,2010],"reverse":true,"nice":false,"zero":false}}}},
  {"data":{"name":"br_ann"},"mark":{"type":"rule","color":"#777","strokeWidth":1},
   "encoding":{"x":{"field":"x","type":"quantitative","scale":{"domain":[855,2010],"reverse":true,"nice":false,"zero":false}},"y":{"field":"y","type":"quantitative","scale":{"domain":[-0.98,3.41],"nice":false,"zero":false}},"y2":{"field":"y2"}}},
  {"data":{"name":"br_rot"},"mark":{"type":"text","align":"left","baseline":"middle","angle":270,"fontSize":15,"font":"Liberation Serif","color":"#222"},
   "encoding":{"x":{"field":"x","type":"quantitative","scale":{"domain":[855,2010],"reverse":true,"nice":false,"zero":false}},"y":{"field":"y","type":"quantitative","scale":{"domain":[-0.98,3.41],"nice":false,"zero":false}},"text":{"field":"t"}}},
  {"data":{"name":"br_rsup"},"mark":{"type":"text","align":"center","baseline":"middle","angle":270,"fontSize":11,"font":"Liberation Serif","color":"#222"},
   "encoding":{"x":{"field":"x","type":"quantitative","scale":{"domain":[855,2010],"reverse":true,"nice":false,"zero":false}},"y":{"field":"y","type":"quantitative","scale":{"domain":[-0.98,3.41],"nice":false,"zero":false}},"text":{"field":"t"}}},
  {"data":{"name":"br_big"},"mark":{"type":"text","align":"left","baseline":"middle","fontSize":22,"font":"Liberation Serif","color":"#111"},
   "encoding":{"x":{"field":"x","type":"quantitative","scale":{"domain":[855,2010],"reverse":true,"nice":false,"zero":false}},"y":{"field":"y","type":"quantitative","scale":{"domain":[-0.98,3.41],"nice":false,"zero":false}},"text":{"field":"t"}}},
  {"data":{"name":"br_brk"},"mark":{"type":"rule","color":"#333","strokeWidth":1},
   "encoding":{"x":{"field":"x","type":"quantitative","scale":{"domain":[855,2010],"reverse":true,"nice":false,"zero":false}},"x2":{"field":"x2"},"y":{"field":"y","type":"quantitative","scale":{"domain":[-0.98,3.41],"nice":false,"zero":false}},"y2":{"field":"y2"}}},
  {"data":{"name":"br"},"mark":{"type":"line","strokeWidth":2,"interpolate":"monotone"},
   "encoding":{
    "x":{"field":"x","type":"quantitative","scale":{"domain":[855,2010],"reverse":true,"nice":false,"zero":false},"axis":{"values":[900,1050,1200,1350,1500,1650,1800,1950],"format":"d","labelExpr":"datum.value % 300 == 0 ? datum.label : ''","tickSize":-3,"labelPadding":8,"labelOverlap":false,"labelFlush":false,"labelFont":"Liberation Serif","labelFontSize":17,"title":null}},
    "y":{"field":"y","type":"quantitative","scale":{"domain":[-0.98,3.41],"nice":false,"zero":false},"axis":{"values":[0,1,2,3],"labels":false,"tickSize":4,"title":null}},
    "color":{"field":"s","type":"nominal","scale":{"domain":["k","r"],"range":["#000000","#ff0000"]},"legend":null}}}
 ]}
],
"title":{"text":"wavenumber (cm⁻¹)","orient":"bottom","anchor":"middle","font":"Liberation Serif","fontSize":24,"fontWeight":"normal","color":"#000","offset":18,"dx":16},
"config":{
 "view":{"stroke":null},
 "axis":{"grid":false,"domainColor":"#333","tickColor":"#333","labelFont":"Liberation Serif","labelFontSize":17,"labelColor":"#000","titleFont":"Liberation Serif","titleFontSize":23,"titleFontWeight":"normal","titleColor":"#000"}
}
}
